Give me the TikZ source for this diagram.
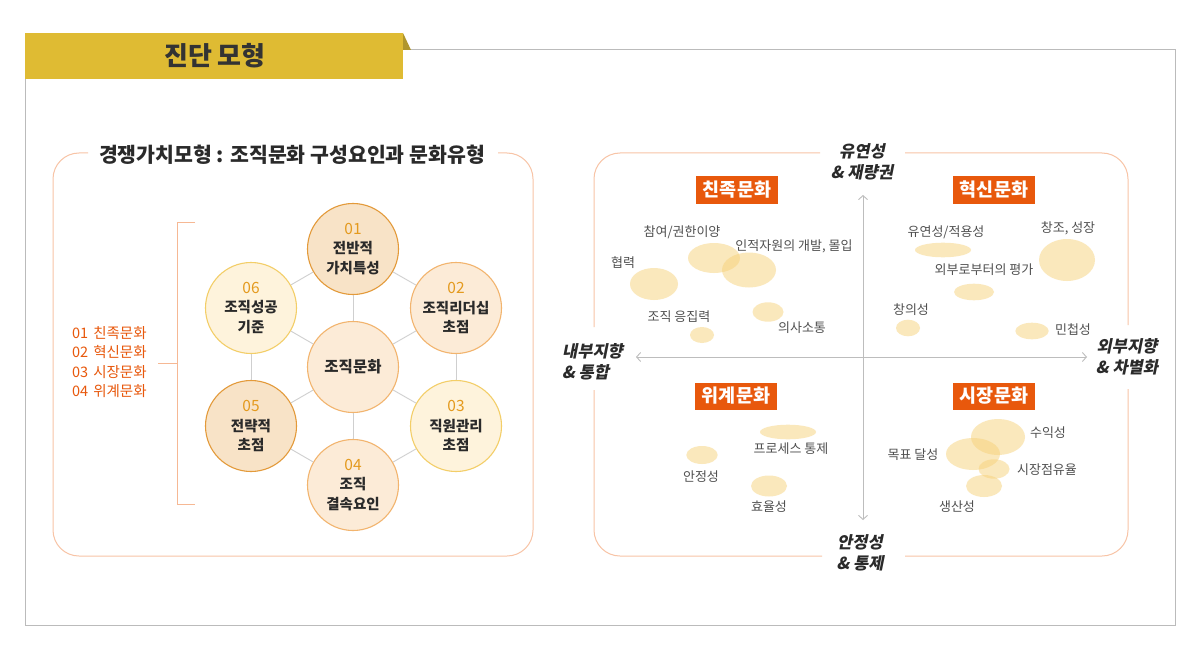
\documentclass[tikz,border=0pt]{standalone}
\usepackage{fontspec}
\setmainfont{Noto Sans CJK KR}
\newfontfamily\axisfont{Noto Sans CJK KR}[FakeSlant=0.2]
\usetikzlibrary{arrows.meta}
\definecolor{gold}{HTML}{DFBB33}
\definecolor{goldd}{HTML}{B0962C}
\definecolor{framec}{HTML}{BBBBBB}
\definecolor{panelc}{HTML}{F8C4A6}
\definecolor{brc}{HTML}{F6B894}
\definecolor{legc}{HTML}{E8580C}
\definecolor{numc}{HTML}{E49A1E}
\definecolor{darkc}{HTML}{2A2A2A}
\definecolor{titlec}{HTML}{333333}
\definecolor{hexc}{HTML}{CFCFCF}
\definecolor{fillA}{HTML}{F8E3C7}
\definecolor{drawA}{HTML}{E39A3A}
\definecolor{fillB}{HTML}{FCEBD7}
\definecolor{drawB}{HTML}{F2B46E}
\definecolor{fillC}{HTML}{FEF3DC}
\definecolor{drawC}{HTML}{F3CE68}
\definecolor{qorange}{HTML}{E8580C}
\definecolor{bub}{HTML}{F7D27A}
\definecolor{labc}{HTML}{505050}
\definecolor{axisc}{HTML}{BDBDBD}
\tikzset{
  hexline/.style={draw=hexc, line width=0.9pt},
  hexcirc/.style={circle, minimum size=91pt, inner sep=0pt, line width=1.1pt, align=center, text=darkc,
    font=\fontsize{14.5}{19.5}\selectfont\bfseries},
  circA/.style={hexcirc, fill=fillA, draw=drawA},
  circB/.style={hexcirc, fill=fillB, draw=drawB},
  circC/.style={hexcirc, fill=fillC, draw=drawC},
  panelline/.style={draw=panelc, line width=1pt, rounded corners=26pt},
  qbox/.style={fill=qorange, text=white, font=\fontsize{18.5}{20}\selectfont\bfseries, minimum width=82pt, minimum height=27pt, inner sep=0pt},
  bubble/.style={fill=bub, fill opacity=0.5},
  blab/.style={font=\fontsize{13}{14}\selectfont, text=labc, inner sep=0pt},
  axislab/.style={font=\axisfont\bfseries\fontsize{16.5}{21}\selectfont, text=darkc, inner sep=0pt},
  axisline/.style={draw=axisc, line width=0.9pt, {Straight Barb[length=4pt,width=9pt]}-{Straight Barb[length=4pt,width=9pt]}}
}
\newcommand{\nm}[1]{{\fontseries{m}\fontsize{15.5}{19.5}\selectfont\color{numc}#1}}
\begin{document}
\begin{tikzpicture}[x=1pt,y=-1pt]
\useasboundingbox (0,0) rectangle (1201,671);
\fill[white] (0,0) rectangle (1201,671);
% outer frame and header
\draw[framec, line width=1pt] (25,50) rectangle (1175,625);
\fill[gold] (25,33) rectangle (403,79);
\fill[goldd] (403,33) -- (411,50) -- (403,50) -- cycle;
\node[font=\fontsize{26}{30}\selectfont\bfseries, text=titlec] (hdr) at (215,56) {진단 모형};

% left panel
\draw[panelline] (88,153) -- (53,153) -- (53,556) -- (533,556) -- (533,153) -- (498,153);
\node[font=\fontsize{20.5}{24}\selectfont\bfseries, text=darkc] (ptitle) at (292,155) {경쟁가치모형 : 조직문화 구성요인과 문화유형};

% bracket and legend
\draw[brc, line width=1pt] (195,222) -- (177,222) -- (177,504) -- (195,504);
\draw[brc, line width=1pt] (177,363) -- (158,363);
\node[anchor=west, align=left, text=legc, inner sep=0pt, font=\fontsize{14.5}{19.5}\selectfont] (legend) at (72,362)
  {01\hspace{5pt}친족문화\\02\hspace{5pt}혁신문화\\03\hspace{5pt}시장문화\\04\hspace{5pt}위계문화};

% hexagon circles
\node[circB, font=\fontsize{15.5}{19}\selectfont\bfseries] (c0) at (353,367) {조직문화};
\node[circA] (c1) at (353,249) {\nm{01}\\전반적\\가치특성};
\node[circB] (c2) at (456,308) {\nm{02}\\조직리더십\\초점};
\node[circC] (c3) at (456,426) {\nm{03}\\직원관리\\초점};
\node[circB] (c4) at (353,485) {\nm{04}\\조직\\결속요인};
\node[circA] (c5) at (251,426) {\nm{05}\\전략적\\초점};
\node[circC] (c6) at (251,308) {\nm{06}\\조직성공\\기준};
\draw[hexline] (c1) -- (c2);
\draw[hexline] (c2) -- (c3);
\draw[hexline] (c3) -- (c4);
\draw[hexline] (c4) -- (c5);
\draw[hexline] (c5) -- (c6);
\draw[hexline] (c6) -- (c1);
\foreach \k in {1,...,6} {\draw[hexline] (c0) -- (c\k);}

% right panel
\draw[panelline] (594,327) -- (594,153) -- (820,153);
\draw[panelline] (905,153) -- (1128,153) -- (1128,325);
\draw[panelline] (1128,389) -- (1128,556) -- (905,556);
\draw[panelline] (822,556) -- (594,556) -- (594,390);

% axes
\coordinate (vt) at (863,195);
\coordinate (vb) at (863,520);
\coordinate (hl) at (636,357);
\coordinate (hr) at (1087,357);
\draw[axisline] (vb) -- (vt);
\draw[axisline] (hl) -- (hr);
\node[axislab, align=center] (atop) at (862,162) {유연성\\\& 재량권};
\node[axislab, align=left, anchor=west] (aleft) at (562,362) {내부지향\\\& 통합};
\node[axislab, align=center] (aright) at (1127,357) {외부지향\\\& 차별화};
\node[axislab, align=center] (abot) at (860,553) {안정성\\\& 통제};

% quadrant labels
\node[qbox] (q1) at (737,190) {친족문화};
\node[qbox] (q2) at (994,190) {혁신문화};
\node[qbox] (q3) at (736,396) {위계문화};
\node[qbox] (q4) at (994,396) {시장문화};

% bubbles: 친족문화
\fill[bubble] (714,258) ellipse [x radius=26, y radius=15];
\fill[bubble] (749,270) ellipse [x radius=27, y radius=17.5];
\fill[bubble] (654,284) ellipse [x radius=24, y radius=16];
\fill[bubble] (768,312) ellipse [x radius=15.5, y radius=9.7];
\fill[bubble] (702,335) ellipse [x radius=12, y radius=8];
\node[blab] (l11) at (682,232) {참여/권한이양};
\node[blab] (l12) at (794,246) {인적자원의 개발, 몰입};
\node[blab] (l13) at (623,263) {협력};
\node[blab] (l14) at (679,317) {조직 응집력};
\node[blab] (l15) at (802,328) {의사소통};

% bubbles: 혁신문화
\fill[bubble] (943,250) ellipse [x radius=28, y radius=7.3];
\fill[bubble] (1067,260) ellipse [x radius=28, y radius=21];
\fill[bubble] (974,292) ellipse [x radius=20, y radius=8.3];
\fill[bubble] (908,328) ellipse [x radius=12, y radius=8.3];
\fill[bubble] (1032,331) ellipse [x radius=16.7, y radius=8.3];
\node[blab] (l21) at (946,232) {유연성/적용성};
\node[blab] (l22) at (1068,228) {창조, 성장};
\node[blab] (l23) at (984,270) {외부로부터의 평가};
\node[blab] (l24) at (911,310) {창의성};
\node[blab] (l25) at (1073,330) {민첩성};

% bubbles: 위계문화
\fill[bubble] (788,432) ellipse [x radius=28, y radius=7.3];
\fill[bubble] (702,455) ellipse [x radius=15.7, y radius=9];
\fill[bubble] (769,486) ellipse [x radius=18, y radius=10.5];
\node[blab] (l31) at (791,449) {프로세스 통제};
\node[blab] (l32) at (701,477) {안정성};
\node[blab] (l33) at (769,507) {효율성};

% bubbles: 시장문화
\fill[bubble] (998,437) ellipse [x radius=27, y radius=18];
\fill[bubble] (973,454) ellipse [x radius=27, y radius=16];
\fill[bubble] (994,469) ellipse [x radius=15.5, y radius=9.7];
\fill[bubble] (984,486) ellipse [x radius=18, y radius=11];
\node[blab] (l41) at (1048,433) {수익성};
\node[blab] (l42) at (913,455) {목표 달성};
\node[blab] (l43) at (1047,470) {시장점유율};
\node[blab] (l44) at (957,507) {생산성};
\end{tikzpicture}
\end{document}
